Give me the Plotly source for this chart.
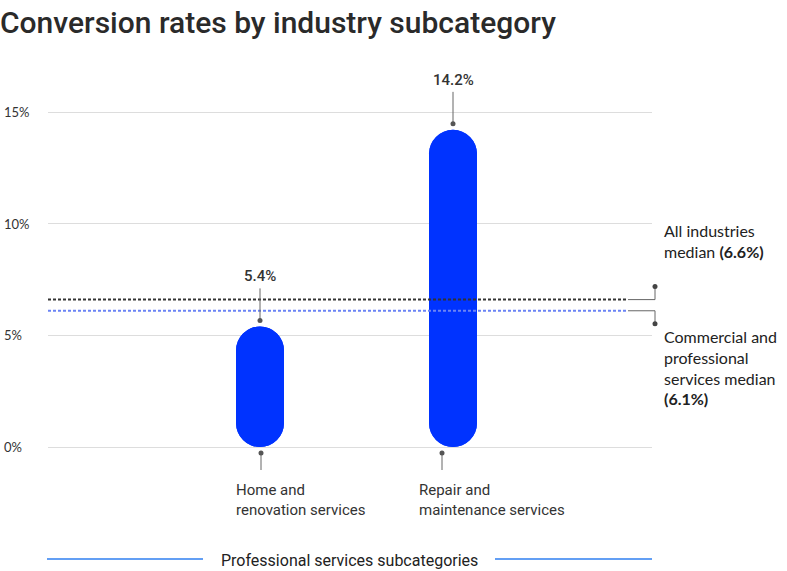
import plotly.graph_objects as go

# ---- data ----
categories = ["Home and<br>renovation services", "Repair and<br>maintenance services"]
values = [5.4, 14.2]
value_labels = ["5.4%", "14.2%"]
all_median = 6.6
cps_median = 6.1
tick_vals = [0, 5, 10, 15]
tick_text = ["0%", "5%", "10%", "15%"]
title_text = "Conversion rates by industry subcategory"
footer_text = "Professional services subcategories"
median_all_text = "All industries<br>median <b>(6.6%)</b>"
median_cps_text = "Commercial and<br>professional<br>services median<br><b>(6.1%)</b>"

# ---- layout geometry (pixels) ----
W, H = 787, 571
L, R, T, B = 48, 652, 60, 470
PX_PER_PCT = (447 - 112) / 15.0
Y_MAX = (447 - T) / PX_PER_PCT
Y_MIN = -(B - 447) / PX_PER_PCT
X0_PX, X_UNIT = 260, 193
X_MIN = -(X0_PX - L) / X_UNIT
X_MAX = (R - X0_PX) / X_UNIT
BAR_W = 48 / X_UNIT
label_offsets = [-26, -36]   # label left edge vs bar center (px)
conn_offsets = [1, -11]      # bottom connector vs bar center (px)

def xp(px):
    return (px - L) / (R - L)

def yp(py):
    return (B - py) / (B - T)

BLUE = "#0033ff"
COND = "Roboto"
SANS = "Lato"

xs = list(range(len(values)))

fig = go.Figure()
# upward bar (rounded top) + downward bar from the value to 0 (rounded bottom): union is a pill
fig.add_bar(x=xs, y=values, base=[0] * len(values), width=BAR_W,
            marker=dict(color=BLUE, line=dict(width=0)), hoverinfo="skip", showlegend=False)
fig.add_bar(x=xs, y=[-v for v in values], base=values, width=BAR_W,
            marker=dict(color=BLUE, line=dict(width=0)), hoverinfo="skip", showlegend=False)

shapes = []
annotations = []

# median lines
shapes.append(dict(type="line", xref="paper", yref="y", x0=0, x1=xp(628), y0=all_median, y1=all_median,
                   line=dict(color="#333333", width=2, dash="3px,2px"), layer="above"))
shapes.append(dict(type="line", xref="paper", yref="y", x0=0, x1=xp(628), y0=cps_median, y1=cps_median,
                   line=dict(color="#6b84f5", width=2, dash="3px,2px"), layer="above"))
for yv, dy in [(all_median, 13), (cps_median, -13)]:
    shapes.append(dict(type="line", xref="paper", yref="y", x0=xp(628), x1=xp(655), y0=yv, y1=yv,
                       line=dict(color="#666666", width=1)))
    shapes.append(dict(type="line", xref="paper", yref="y", ysizemode="pixel", yanchor=yv,
                       x0=xp(655), x1=xp(655), y0=0, y1=dy, line=dict(color="#666666", width=1)))
    shapes.append(dict(type="circle", xref="paper", yref="y", ysizemode="pixel", yanchor=yv,
                       xsizemode="pixel", xanchor=xp(655), x0=-2.5, x1=2.5, y0=dy - 2.5, y1=dy + 2.5,
                       fillcolor="#444444", line=dict(width=0)))

annotations.append(dict(text=median_all_text, xref="paper", yref="paper", x=xp(662), y=yp(219),
                        xanchor="left", yanchor="top", align="left", showarrow=False,
                        font=dict(family=SANS, size=16, color="#222222")))
annotations.append(dict(text=median_cps_text, xref="paper", yref="paper", x=xp(662), y=yp(325),
                        xanchor="left", yanchor="top", align="left", showarrow=False,
                        font=dict(family=SANS, size=16, color="#222222")))

# value labels and connectors
for i, (v, lab) in enumerate(zip(values, value_labels)):
    annotations.append(dict(text=lab, x=i, y=v, xref="x", yref="y", yshift=50, showarrow=False,
                            font=dict(family=COND, size=15, color="#333333", weight=500)))
    shapes.append(dict(type="line", xref="x", yref="y", ysizemode="pixel", yanchor=v,
                       x0=i, x1=i, y0=6, y1=38, line=dict(color="#666666", width=1)))
    shapes.append(dict(type="circle", xref="x", yref="y", ysizemode="pixel", yanchor=v,
                       xsizemode="pixel", xanchor=i, x0=-2.5, x1=2.5, y0=3.5, y1=8.5,
                       fillcolor="#555555", line=dict(width=0)))
    cx = i + conn_offsets[i] / X_UNIT
    shapes.append(dict(type="line", xref="x", yref="y", ysizemode="pixel", yanchor=0,
                       x0=cx, x1=cx, y0=-6, y1=-33, line=dict(color="#666666", width=1)))
    shapes.append(dict(type="circle", xref="x", yref="y", ysizemode="pixel", yanchor=0,
                       xsizemode="pixel", xanchor=cx, x0=-2.5, x1=2.5, y0=-8.5, y1=-3.5,
                       fillcolor="#555555", line=dict(width=0)))
    annotations.append(dict(text=categories[i], x=i, y=0, xref="x", yref="y",
                            xshift=label_offsets[i], yshift=-32, xanchor="left", yanchor="top",
                            align="left", showarrow=False,
                            font=dict(family=COND, size=15, color="#333333")))

# y tick labels
for tv, tt in zip(tick_vals, tick_text):
    annotations.append(dict(text=tt, xref="paper", yref="y", x=xp(2), y=tv, xanchor="left",
                            yanchor="middle", showarrow=False,
                            font=dict(family=SANS, size=13, color="#333333")))

# footer
annotations.append(dict(text=footer_text, xref="paper", yref="paper", x=xp(349), y=yp(560),
                        xanchor="center", yanchor="middle", showarrow=False,
                        font=dict(family=COND, size=16, color="#222222")))
for a, b in [(47, 203), (495, 652)]:
    shapes.append(dict(type="line", xref="paper", yref="paper", x0=xp(a), x1=xp(b), y0=yp(559), y1=yp(559),
                       line=dict(color="#2f7ff0", width=1.5)))

fig.update_layout(
    width=W, height=H,
    margin=dict(l=L, r=W - R, t=T, b=H - B),
    paper_bgcolor="white", plot_bgcolor="white",
    barmode="overlay", barcornerradius="50%",
    title=dict(text=title_text, x=0, xref="container", xanchor="left", y=1 - 22 / H, yref="container",
               yanchor="middle", font=dict(family=COND, size=30, color="#2a2a2a", weight=500)),
    xaxis=dict(range=[X_MIN, X_MAX], showgrid=False, zeroline=False, showticklabels=False, ticks=""),
    yaxis=dict(range=[Y_MIN, Y_MAX], tickvals=tick_vals, showticklabels=False, showgrid=True,
               gridcolor="#dddddd", gridwidth=1, zeroline=False, ticks=""),
    shapes=shapes, annotations=annotations,
)

fig.write_html("out.html")
